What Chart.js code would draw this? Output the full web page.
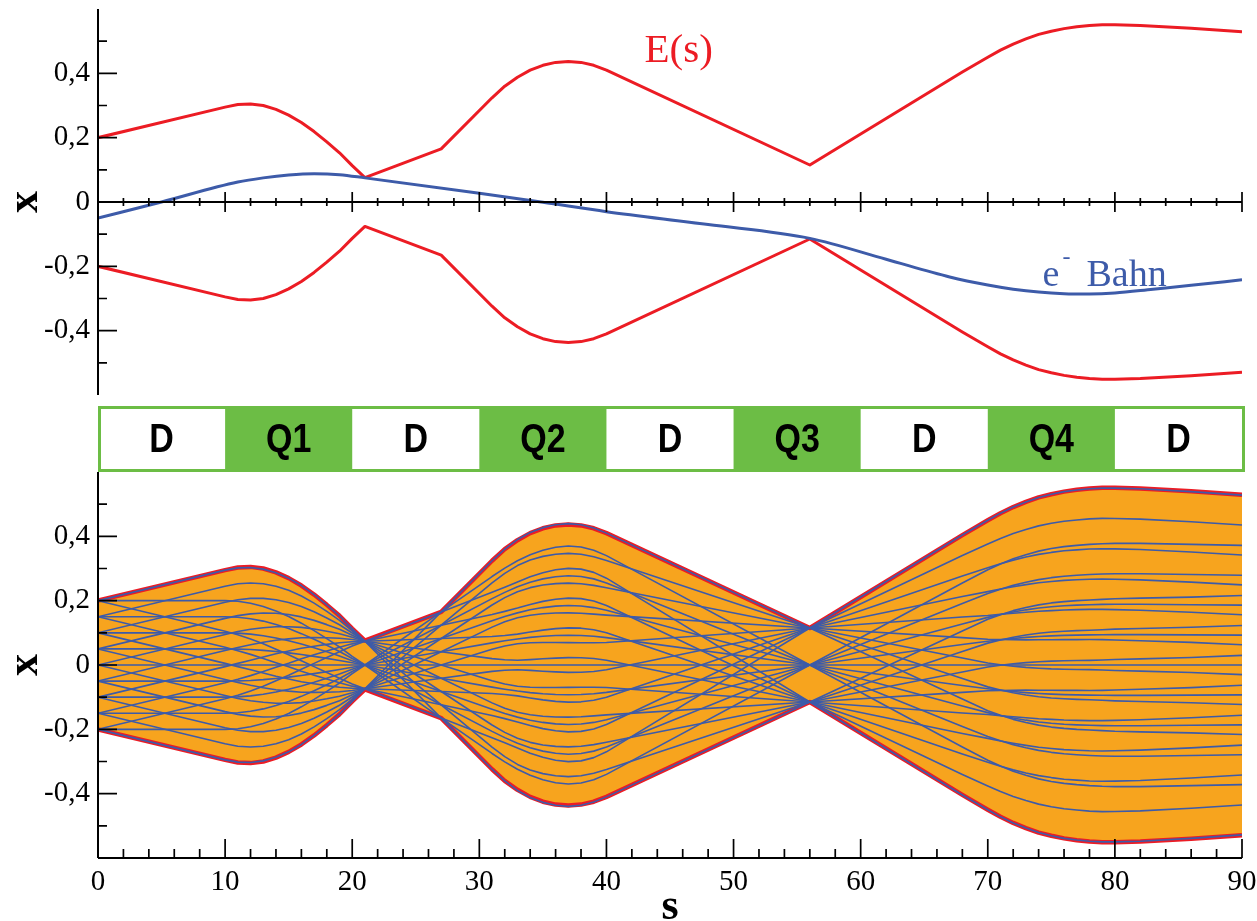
<!DOCTYPE html>
<html>
<head>
<meta charset="utf-8">
<title>E(s) und e- Bahn</title>
<script src="https://cdn.jsdelivr.net/npm/chart.js@4.4.0/dist/chart.umd.min.js"></script>
<style>
  html, body { margin: 0; padding: 0; background: #fff; }
  #wrap { position: relative; width: 1257px; height: 921px; overflow: hidden; }
  #wrap canvas { position: absolute; left: 0; }
  #top { top: 0; }
  #bottom { top: 400px; }
</style>
</head>
<body>
<div id="wrap">
  <canvas id="top" width="1257" height="400"></canvas>
  <canvas id="bottom" width="1257" height="521"></canvas>
</div>
<script>
const sKnots = [0, 10, 11, 12, 13, 14, 15, 16, 17, 18, 19, 20, 21, 27, 31, 32, 33, 34, 35, 36,
    37, 38, 39, 40, 56, 68, 70, 71, 72, 73, 74, 75, 76, 77, 78, 79, 80, 82, 86, 90];

// beam envelope E(s)
const envUpper = [0.200, 0.295, 0.303, 0.305, 0.300, 0.288, 0.270, 0.247, 0.219, 0.187, 0.153, 0.113,
    0.076, 0.165, 0.324, 0.360, 0.388, 0.410, 0.425, 0.434, 0.437, 0.434, 0.425, 0.410, 0.115, 0.404,
    0.450, 0.472, 0.491, 0.507, 0.521, 0.531, 0.539, 0.545, 0.549, 0.551, 0.551, 0.549, 0.540, 0.529];
const envLower = [-0.200, -0.295, -0.303, -0.305, -0.300, -0.288, -0.270, -0.247, -0.219, -0.187, -0.153, -0.113,
    -0.076, -0.165, -0.324, -0.360, -0.388, -0.410, -0.425, -0.434, -0.437, -0.434, -0.425, -0.410, -0.115, -0.404,
    -0.450, -0.472, -0.491, -0.507, -0.521, -0.531, -0.539, -0.545, -0.549, -0.551, -0.551, -0.549, -0.540, -0.529];

// the two principal rays of the bundle:
// one starts at x=0.2 parallel to the axis, one starts on the axis with the largest angle
const rayParallel = [0.2, 0.2, 0.198, 0.192, 0.182, 0.168, 0.151, 0.130, 0.107, 0.082, 0.056, 0.027,
    0.0, -0.165, -0.275, -0.301, -0.324, -0.343, -0.357, -0.366, -0.370, -0.367, -0.357, -0.340, 0.0, 0.255,
    0.296, 0.314, 0.330, 0.343, 0.354, 0.362, 0.368, 0.372, 0.375, 0.377, 0.378, 0.378, 0.375, 0.372];
const rayAxial = [0, 0.095, 0.104, 0.111, 0.116, 0.119, 0.119, 0.117, 0.112, 0.105, 0.097, 0.086,
    0.074, 0.0, -0.049, -0.059, -0.066, -0.069, -0.070, -0.070, -0.0695, -0.069, -0.069, -0.070, -0.115, -0.149,
    -0.154, -0.158, -0.161, -0.164, -0.167, -0.169, -0.171, -0.172, -0.173, -0.173, -0.172, -0.170, -0.164, -0.156];

// start points at s=0 and the three start angles (down, parallel, up)
const rayStarts = [0.2, 0.15, 0.1, 0.05, 0, -0.05, -0.1, -0.15, -0.2];
const rayAngles = [-1, 0, 1];

// electron orbit (e- Bahn)
const orbitS = [0, 5, 11, 13, 15, 17, 19, 21, 30, 35, 40, 48, 56, 62, 67, 70, 72, 74, 76, 78, 80, 83, 86, 90];
const orbitX = [-0.05, 0.0, 0.062, 0.075, 0.084, 0.088, 0.085, 0.075, 0.027, -0.001, -0.03, -0.07, -0.113,
    -0.178, -0.233, -0.258, -0.271, -0.28, -0.285, -0.286, -0.283, -0.271, -0.259, -0.242];

// magnet lattice
const elements = ['D', 'Q1', 'D', 'Q2', 'D', 'Q3', 'D', 'Q4', 'D'];
const elementEdges = [0, 10, 20, 30, 40, 50, 60, 70, 80, 90];

const yTicks = [-0.4, -0.2, 0, 0.2, 0.4];

const RED = '#ec1c24';
const BLUE = '#3d5ba9';
const ORANGE = '#f7a41e';
const GREEN = '#6cbd45';
const SERIF = '"Liberation Serif", "Times New Roman", serif';

const fmt = v => v === 0 ? '0' : v.toFixed(1).replace('.', ',');

function pts(xs, ys) {
    return xs.map((s, i) => ({ x: s, y: ys[i] }));
}

// axis lines with inward major/minor ticks; the top panel has its s axis at x=0
function axesPlugin(crossing) {
    return {
        id: 'axes',
        afterDatasetsDraw(chart) {
            const { ctx, chartArea: a, scales: { x, y } } = chart;
            const y0 = crossing ? y.getPixelForValue(0) : a.bottom;
            ctx.save();
            ctx.strokeStyle = '#000';
            ctx.lineWidth = 2;
            ctx.beginPath();
            ctx.moveTo(a.left, a.top);
            ctx.lineTo(a.left, a.bottom);
            ctx.moveTo(a.left, y0);
            ctx.lineTo(a.right, y0);
            ctx.stroke();

            ctx.lineWidth = 1.7;
            ctx.beginPath();
            for (let v = -5; v <= 5; v++) {
                const py = y.getPixelForValue(v / 10);
                ctx.moveTo(a.left, py);
                ctx.lineTo(a.left + (v % 2 === 0 ? 19 : 9), py);
            }
            for (let s = 0; s <= 90; s += 2) {
                const px = x.getPixelForValue(s);
                const major = s % 10 === 0;
                if (crossing) {
                    const h = major ? 10 : 4;
                    ctx.moveTo(px, y0 - h);
                    ctx.lineTo(px, y0 + h);
                } else {
                    ctx.moveTo(px, y0);
                    ctx.lineTo(px, y0 - (major ? 19 : 9));
                }
            }
            ctx.stroke();
            ctx.restore();
        }
    };
}

const labelPlugin = {
    id: 'curveLabels',
    afterDatasetsDraw(chart) {
        const { ctx, scales: { x, y } } = chart;
        ctx.save();
        ctx.textAlign = 'left';
        ctx.textBaseline = 'alphabetic';
        ctx.font = '41px ' + SERIF;
        ctx.fillStyle = RED;
        ctx.fillText('E(s)', x.getPixelForValue(43), y.getPixelForValue(0.435));

        const bx = x.getPixelForValue(74.3);
        const by = y.getPixelForValue(-0.26);
        ctx.fillStyle = BLUE;
        ctx.font = '38px ' + SERIF;
        ctx.fillText('e', bx, by);
        ctx.font = '24px ' + SERIF;
        ctx.fillText('-', bx + 20, by - 22);
        ctx.font = '38px ' + SERIF;
        ctx.fillText('Bahn', bx + 44, by);
        ctx.restore();
    }
};

const latticePlugin = {
    id: 'lattice',
    afterDraw(chart) {
        const { ctx, scales: { x } } = chart;
        const top = 6, bottom = 72, b = 3;
        const left = x.getPixelForValue(0), right = x.getPixelForValue(90) + b;
        ctx.save();
        ctx.fillStyle = GREEN;
        ctx.fillRect(left, top, right - left, bottom - top);
        ctx.font = 'bold 34px "Liberation Sans", Arial, sans-serif';
        ctx.textAlign = 'center';
        ctx.textBaseline = 'middle';
        elements.forEach((name, i) => {
            const l = x.getPixelForValue(elementEdges[i]);
            const r = x.getPixelForValue(elementEdges[i + 1]);
            if (name === 'D') {
                ctx.fillStyle = '#fff';
                const l2 = i === 0 ? l + b : l;
                ctx.fillRect(l2, top + b, r - l2, bottom - top - 2 * b);
            }
            // the lettering in the lattice bar is a bit taller than wide
            ctx.save();
            ctx.translate((l + r) / 2, (top + bottom) / 2 + 2);
            ctx.scale(1, 1.22);
            ctx.fillStyle = '#000';
            ctx.fillText(name, 0, 0);
            ctx.restore();
        });
        ctx.restore();
    }
};

function yScale() {
    return {
        min: -0.6,
        max: 0.6,
        afterBuildTicks: s => { s.ticks = yTicks.map(v => ({ value: v })); },
        afterFit: s => { s.width = 98; s.paddingTop = 0; s.paddingBottom = 0; },
        grid: { display: false, drawTicks: false },
        border: { display: false },
        ticks: { padding: 8, color: '#000', font: { family: SERIF, size: 29 }, callback: fmt },
        title: {
            display: true, text: 'x', color: '#000', padding: 0,
            font: { family: SERIF, size: 44, weight: 'bold', lineHeight: 1.15 }
        }
    };
}

const common = {
    responsive: false,
    animation: false,
    events: [],
    elements: { point: { radius: 0 }, line: { tension: 0, borderJoinStyle: 'round', fill: false } },
    plugins: { legend: { display: false }, tooltip: { enabled: false } }
};

// top panel: envelope and electron orbit
new Chart(document.getElementById('top'), {
    type: 'line',
    data: {
        datasets: [
            { data: pts(orbitS, orbitX), borderColor: BLUE, borderWidth: 3, cubicInterpolationMode: 'monotone' },
            { data: pts(sKnots, envUpper), borderColor: RED, borderWidth: 3 },
            { data: pts(sKnots, envLower), borderColor: RED, borderWidth: 3 }
        ]
    },
    options: {
        ...common,
        layout: { padding: { top: 9, bottom: 5, left: 0, right: 15 } },
        scales: {
            x: { type: 'linear', min: 0, max: 90, display: false },
            y: yScale()
        }
    },
    plugins: [axesPlugin(true), labelPlugin]
});

// bottom panel: filled envelope with the ray bundle
const rays = [];
rayStarts.forEach(x0 => {
    rayAngles.forEach(k => {
        const u = x0 / rayParallel[0];
        rays.push({
            data: sKnots.map((s, i) => ({ x: s, y: u * rayParallel[i] + k * rayAxial[i] })),
            borderColor: BLUE,
            borderWidth: 1.6,
            order: 1
        });
    });
});

new Chart(document.getElementById('bottom'), {
    type: 'line',
    data: {
        datasets: [
            { data: pts(sKnots, envUpper), borderColor: RED, borderWidth: 4.5, fill: '+1', backgroundColor: ORANGE, order: 2 },
            { data: pts(sKnots, envLower), borderColor: RED, borderWidth: 4.5, order: 2 },
            ...rays
        ]
    },
    options: {
        ...common,
        layout: { padding: { top: 72, bottom: 0, left: 0, right: 15 } },
        plugins: { ...common.plugins, filler: { drawTime: 'beforeDatasetsDraw' } },
        scales: {
            x: {
                type: 'linear', min: 0, max: 90,
                afterFit: s => { s.height = 63; s.paddingLeft = 0; s.paddingRight = 0; },
                grid: { display: false, drawTicks: false },
                border: { display: false },
                ticks: { stepSize: 10, padding: 7, maxRotation: 0, color: '#000', font: { family: SERIF, size: 29 } },
                title: {
                    display: true, text: 's', color: '#000', padding: 0,
                    font: { family: SERIF, size: 44, weight: 'bold', lineHeight: 0.62 }
                }
            },
            y: yScale()
        }
    },
    plugins: [axesPlugin(false), latticePlugin]
});
</script>
</body>
</html>
